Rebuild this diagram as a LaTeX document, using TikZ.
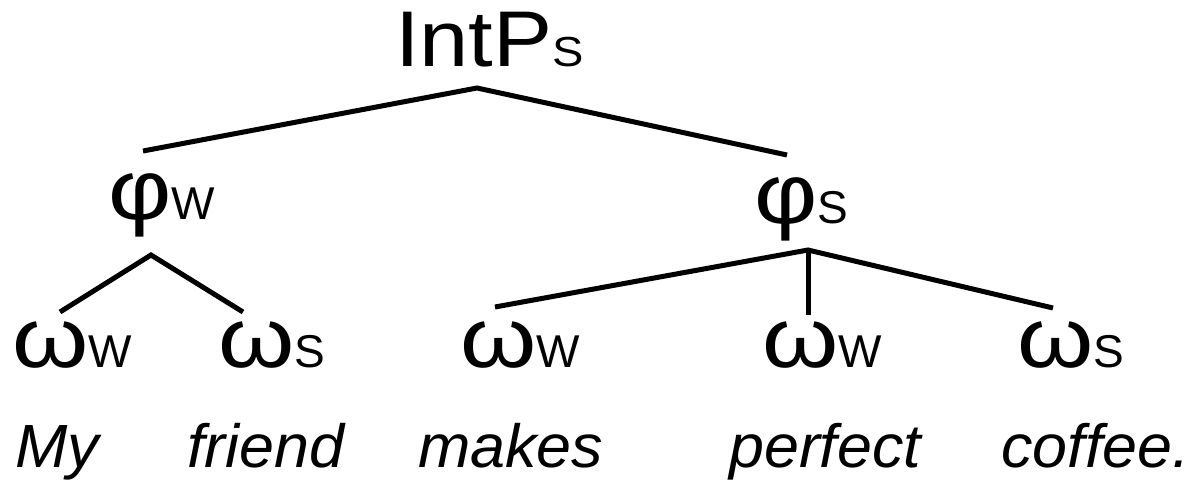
\documentclass[tikz,border=0pt]{standalone}
\usepackage{fontspec}
\setmainfont{Liberation Sans}
\newfontfamily\treefont{Liberation Sans}
\newfontfamily\topfont{Liberation Sans}[FakeStretch=1.12]
\newfontfamily\greekfont{Liberation Sans}[FakeStretch=1.15]
\newfontfamily\wordfont{Liberation Sans}[FakeStretch=1.03]
\newcommand\gk[1]{{\greekfont\fontsize{85pt}{85pt}\selectfont #1}}
\newcommand\midsz{\fontsize{46pt}{46pt}\selectfont}
\newcommand\wordsz{\fontsize{61pt}{61pt}\selectfont}
\tikzset{
  lbl/.style={inner sep=0pt, anchor=base west, font=\treefont},
  word/.style={inner sep=0pt, anchor=base west, font=\wordfont\itshape\wordsz},
  branch/.style={line width=5pt, black}
}
\begin{document}
\begin{tikzpicture}[x=1pt,y=-1pt]
\useasboundingbox (0,0) rectangle (1194,484);
% labels
\node[lbl] (intp) at (395,67) {\topfont\fontsize{79pt}{79pt}\selectfont IntP\fontsize{42pt}{42pt}\selectfont S};
\node[lbl] (phiw) at (108,219) {\gk{φ}\midsz W};
\node[lbl] (phis) at (754,223) {\gk{φ}\midsz S};
\node[lbl] (om1) at (12,367) {\gk{ω}\midsz W};
\node[lbl] (om2) at (218,367) {\gk{ω}\midsz S};
\node[lbl] (om3) at (460,367) {\gk{ω}\midsz W};
\node[lbl] (om4) at (762,367) {\gk{ω}\midsz W};
\node[lbl] (om5) at (1017,367) {\gk{ω}\midsz S};
\node[word] (w1) at (15,467) {My};
\node[word] (w2) at (187,467) {friend};
\node[word] (w3) at (418,467) {makes};
\node[word] (w4) at (729,467) {perfect};
\node[word] (w5) at (1001,467) {coffee.};
% branch points
\coordinate (intp-j) at (477,88);
\coordinate (phiw-t) at (143,151);
\coordinate (phis-t) at (787,155);
\coordinate (phiw-j) at (151,255);
\coordinate (om1-t) at (60,312);
\coordinate (om2-t) at (243,312);
\coordinate (phis-j) at (808,250);
\coordinate (om3-t) at (495,307);
\coordinate (om4-t) at (808,315);
\coordinate (om5-t) at (1053,308);
\draw[branch] (phiw-t) -- (intp-j) -- (phis-t);
\draw[branch] (om1-t) -- (phiw-j) -- (om2-t);
\draw[branch] (om3-t) -- (phis-j) -- (om5-t);
\draw[branch] (phis-j) -- (om4-t);
\end{tikzpicture}
\end{document}
